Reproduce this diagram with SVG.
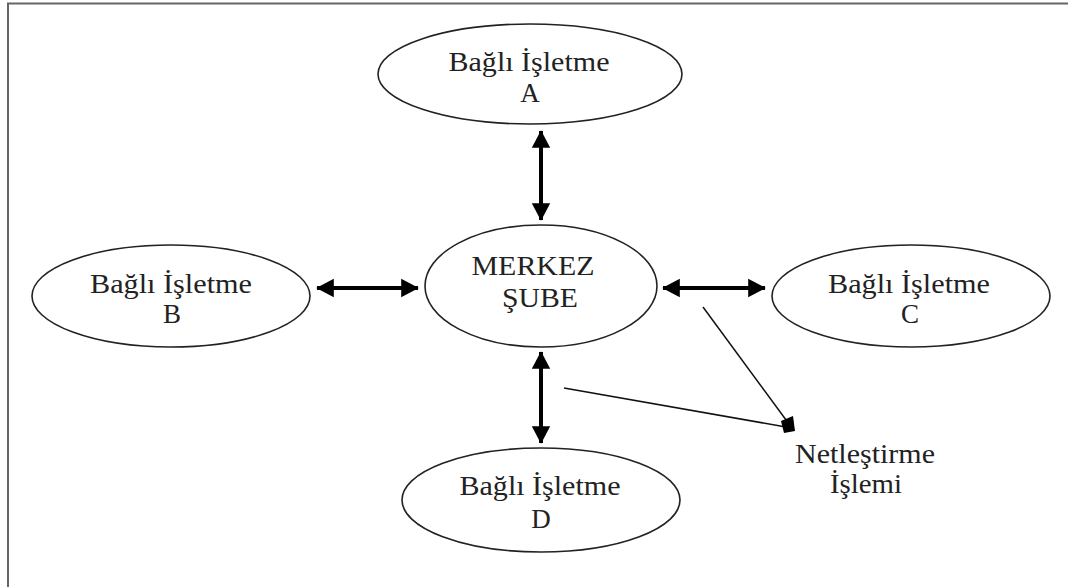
<svg xmlns="http://www.w3.org/2000/svg" width="1068" height="587" viewBox="0 0 1068 587">
<style>
.node ellipse{fill:#fff;stroke:#222;stroke-width:1.6}
text{font-family:"Liberation Serif","Times New Roman",serif;font-size:27px;fill:#222;text-anchor:middle}
.thick{stroke:#000;stroke-width:4;fill:none}
.thin{stroke:#111;stroke-width:1.5;fill:none}
</style>
<defs>
<marker id="ah" markerWidth="5" markerHeight="5" refX="4.2" refY="2.5" orient="auto-start-reverse" markerUnits="strokeWidth">
<path d="M0,0.2 L4.4,2.5 L0,4.8 Z" fill="#000"/>
</marker>
</defs>
<rect width="1068" height="587" fill="#fff"/>
<path d="M8 590 V3.5 H1070" fill="none" stroke="#666" stroke-width="2"/>
<g id="connectors">
<line class="thick" x1="541" y1="131" x2="541" y2="220" marker-start="url(#ah)" marker-end="url(#ah)"/>
<line class="thick" x1="541" y1="352" x2="541" y2="443" marker-start="url(#ah)" marker-end="url(#ah)"/>
<line class="thick" x1="317" y1="288" x2="418" y2="288" marker-start="url(#ah)" marker-end="url(#ah)"/>
<line class="thick" x1="663" y1="288" x2="765" y2="288" marker-start="url(#ah)" marker-end="url(#ah)"/>
<line class="thin" x1="703" y1="307" x2="789" y2="424"/>
<line class="thin" x1="564" y1="388" x2="786" y2="427"/>
<path d="M781 421 L793 416 L795 431 L784 433 Z" fill="#000"/>
</g>
<g id="nodeA" class="node">
<ellipse cx="530" cy="74" rx="152" ry="50"/>
<text x="529" y="71" textLength="161" lengthAdjust="spacingAndGlyphs">Bağlı İşletme</text>
<text x="530" y="102">A</text>
</g>
<g id="nodeB" class="node">
<ellipse cx="171" cy="296" rx="139" ry="51"/>
<text x="171" y="293" textLength="162" lengthAdjust="spacingAndGlyphs">Bağlı İşletme</text>
<text x="172" y="323">B</text>
</g>
<g id="nodeC" class="node">
<ellipse cx="911" cy="296" rx="139" ry="51"/>
<text x="909" y="293" textLength="162" lengthAdjust="spacingAndGlyphs">Bağlı İşletme</text>
<text x="910" y="323">C</text>
</g>
<g id="nodeD" class="node">
<ellipse cx="541" cy="500" rx="139" ry="52"/>
<text x="540" y="495" textLength="161" lengthAdjust="spacingAndGlyphs">Bağlı İşletme</text>
<text x="541" y="528">D</text>
</g>
<g id="merkez" class="node">
<ellipse cx="541" cy="286" rx="116" ry="61"/>
<text x="533" y="275" textLength="123" lengthAdjust="spacingAndGlyphs">MERKEZ</text>
<text x="540" y="307" textLength="76" lengthAdjust="spacingAndGlyphs">ŞUBE</text>
</g>
<g id="netlestirme">
<text x="865" y="463" textLength="140" lengthAdjust="spacingAndGlyphs">Netleştirme</text>
<text x="866" y="493" textLength="72" lengthAdjust="spacingAndGlyphs">İşlemi</text>
</g>
</svg>
